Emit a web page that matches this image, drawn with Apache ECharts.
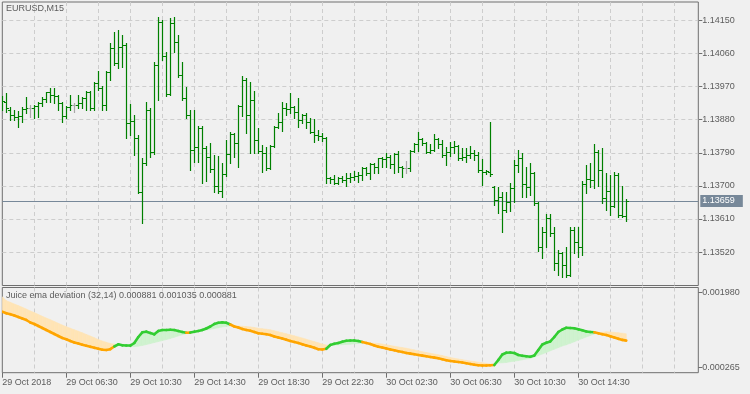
<!DOCTYPE html>
<html><head><meta charset="utf-8">
<script src="https://cdn.jsdelivr.net/npm/echarts@6/dist/echarts.min.js"></script>
<style>html,body{margin:0;padding:0;background:#F0F0F0}#chart{width:750px;height:394px}</style>
</head><body><div id="chart"></div>
<script>
const symbolTitle = 'EURUSD,M15';
const indicatorTitle = 'Juice ema deviation (32,14) 0.000881 0.001035 0.000881';
const timeLabels = ['29 Oct 2018','29 Oct 06:30','29 Oct 10:30','29 Oct 14:30','29 Oct 18:30','29 Oct 22:30','30 Oct 02:30','30 Oct 06:30','30 Oct 10:30','30 Oct 14:30'];
const priceTicks = [1.13520,1.13610,1.13700,1.13790,1.13880,1.13970,1.14060,1.14150];
const devTicks = [0.000265,0.001980];

const opens = [1.13926,1.13929,1.13907,1.13893,1.13888,1.13890,1.13910,1.13912,1.13912,1.13918,
1.13926,1.13937,1.13956,1.13948,1.13945,1.13926,1.13890,1.13915,1.13920,1.13920,
1.13926,1.13939,1.13956,1.13912,1.13980,1.13967,1.13920,1.14010,1.14075,1.14035,
1.14078,1.14084,1.13871,1.13877,1.13831,1.13684,1.13763,1.13907,1.13793,1.14029,
1.14146,1.14054,1.13950,1.14143,1.14092,1.14002,1.13939,1.13893,1.13798,1.13806,
1.13858,1.13803,1.13779,1.13746,1.13700,1.13686,1.13733,1.13787,1.13841,1.13817,
1.13918,1.13988,1.13893,1.13934,1.13825,1.13795,1.13790,1.13749,1.13809,1.13861,
1.13874,1.13912,1.13910,1.13915,1.13901,1.13880,1.13893,1.13874,1.13847,1.13839,
1.13836,1.13831,1.13722,1.13719,1.13708,1.13722,1.13716,1.13722,1.13725,1.13727,
1.13730,1.13749,1.13735,1.13760,1.13752,1.13776,1.13773,1.13779,1.13760,1.13787,
1.13752,1.13749,1.13749,1.13795,1.13814,1.13828,1.13817,1.13793,1.13798,1.13828,
1.13814,1.13784,1.13793,1.13806,1.13809,1.13776,1.13779,1.13784,1.13790,1.13784,
1.13744,1.13738,1.13738,1.13697,1.13662,1.13670,1.13635,1.13657,1.13695,1.13757,
1.13776,1.13705,1.13697,1.13735,1.13654,1.13534,1.13575,1.13613,1.13572,1.13491,
1.13518,1.13485,1.13458,1.13580,1.13548,1.13534,1.13705,1.13719,1.13716,1.13793,
1.13744,1.13667,1.13686,1.13646,1.13730,1.13621,1.13618];
const highs = [1.13945,1.13953,1.13915,1.13907,1.13904,1.13915,1.13942,1.13920,1.13920,1.13928,
1.13942,1.13956,1.13967,1.13967,1.13948,1.13928,1.13918,1.13948,1.13926,1.13948,
1.13942,1.13958,1.13958,1.13983,1.14013,1.13972,1.14013,1.14089,1.14119,1.14124,
1.14111,1.14089,1.13923,1.13893,1.13839,1.13776,1.13928,1.13912,1.14037,1.14160,
1.14151,1.14065,1.14157,1.14160,1.14111,1.14037,1.13969,1.13907,1.13907,1.13863,
1.13863,1.13809,1.13817,1.13784,1.13782,1.13763,1.13825,1.13847,1.13844,1.13920,
1.13999,1.13994,1.13983,1.13958,1.13858,1.13812,1.13806,1.13812,1.13863,1.13899,
1.13928,1.13926,1.13953,1.13918,1.13939,1.13896,1.13899,1.13885,1.13882,1.13852,
1.13844,1.13833,1.13725,1.13730,1.13725,1.13727,1.13735,1.13735,1.13741,1.13738,
1.13752,1.13752,1.13763,1.13763,1.13776,1.13779,1.13790,1.13784,1.13790,1.13795,
1.13754,1.13768,1.13798,1.13817,1.13847,1.13831,1.13820,1.13814,1.13841,1.13831,
1.13825,1.13806,1.13820,1.13822,1.13812,1.13803,1.13803,1.13809,1.13798,1.13793,
1.13773,1.13744,1.13874,1.13700,1.13697,1.13684,1.13684,1.13708,1.13771,1.13798,
1.13790,1.13752,1.13763,1.13738,1.13657,1.13588,1.13624,1.13624,1.13588,1.13526,
1.13521,1.13534,1.13588,1.13588,1.13588,1.13714,1.13757,1.13763,1.13814,1.13798,
1.13803,1.13735,1.13730,1.13738,1.13735,1.13700,1.13665];
const lows = [1.13907,1.13901,1.13880,1.13880,1.13861,1.13874,1.13899,1.13888,1.13885,1.13888,
1.13918,1.13928,1.13928,1.13926,1.13907,1.13874,1.13885,1.13907,1.13901,1.13912,
1.13912,1.13907,1.13907,1.13907,1.13961,1.13907,1.13907,1.13988,1.14029,1.14021,
1.14024,1.13831,1.13839,1.13784,1.13681,1.13599,1.13757,1.13779,1.13787,1.13934,
1.14043,1.13945,1.13948,1.14065,1.13996,1.13934,1.13885,1.13744,1.13765,1.13765,
1.13708,1.13714,1.13738,1.13684,1.13681,1.13670,1.13727,1.13763,1.13779,1.13752,
1.13890,1.13844,1.13790,1.13790,1.13790,1.13738,1.13744,1.13746,1.13806,1.13858,
1.13850,1.13893,1.13899,1.13885,1.13861,1.13871,1.13858,1.13844,1.13820,1.13825,
1.13822,1.13708,1.13708,1.13705,1.13705,1.13711,1.13700,1.13711,1.13716,1.13711,
1.13716,1.13730,1.13719,1.13735,1.13735,1.13752,1.13752,1.13749,1.13735,1.13738,
1.13725,1.13735,1.13741,1.13793,1.13795,1.13812,1.13790,1.13790,1.13795,1.13803,
1.13779,1.13757,1.13782,1.13790,1.13771,1.13771,1.13765,1.13776,1.13771,1.13738,
1.13703,1.13733,1.13727,1.13648,1.13627,1.13575,1.13629,1.13632,1.13657,1.13738,
1.13670,1.13670,1.13676,1.13648,1.13523,1.13504,1.13534,1.13564,1.13472,1.13458,
1.13452,1.13452,1.13455,1.13518,1.13507,1.13512,1.13681,1.13697,1.13695,1.13700,
1.13654,1.13635,1.13621,1.13643,1.13616,1.13616,1.13605];
const closes = [1.13931,1.13912,1.13893,1.13888,1.13890,1.13910,1.13912,1.13912,1.13918,1.13926,
1.13937,1.13956,1.13948,1.13945,1.13926,1.13890,1.13915,1.13920,1.13920,1.13926,
1.13939,1.13956,1.13912,1.13980,1.13967,1.13920,1.14010,1.14075,1.14035,1.14078,
1.14084,1.13871,1.13877,1.13831,1.13684,1.13763,1.13907,1.13793,1.14029,1.14146,
1.14054,1.13950,1.14143,1.14092,1.14002,1.13939,1.13893,1.13798,1.13806,1.13858,
1.13803,1.13779,1.13746,1.13700,1.13686,1.13733,1.13787,1.13841,1.13817,1.13918,
1.13988,1.13893,1.13934,1.13825,1.13795,1.13790,1.13749,1.13809,1.13861,1.13874,
1.13912,1.13910,1.13915,1.13901,1.13880,1.13893,1.13874,1.13847,1.13839,1.13836,
1.13831,1.13722,1.13719,1.13708,1.13722,1.13716,1.13722,1.13725,1.13727,1.13730,
1.13749,1.13735,1.13760,1.13752,1.13776,1.13773,1.13779,1.13760,1.13787,1.13752,
1.13749,1.13749,1.13795,1.13814,1.13828,1.13817,1.13793,1.13798,1.13828,1.13814,
1.13784,1.13793,1.13806,1.13809,1.13776,1.13779,1.13784,1.13790,1.13784,1.13744,
1.13738,1.13741,1.13733,1.13662,1.13670,1.13635,1.13657,1.13695,1.13757,1.13776,
1.13705,1.13697,1.13735,1.13654,1.13534,1.13575,1.13613,1.13572,1.13491,1.13518,
1.13485,1.13458,1.13580,1.13548,1.13534,1.13705,1.13719,1.13716,1.13793,1.13744,
1.13667,1.13686,1.13646,1.13730,1.13621,1.13618,1.13659];

const devMain = [0.001539,
0.001502,0.001482,0.001452,0.001418,0.001384,0.001350,0.001293,0.001259,0.001213,0.001168,
0.001122,0.001077,0.001031,0.000986,0.000940,0.000911,0.000872,0.000838,0.000815,0.000786,
0.000763,0.000740,0.000717,0.000695,0.000672,0.000667,0.000686,0.000747,0.000797,0.000774,
0.000770,0.000768,0.000827,0.000963,0.001070,0.001084,0.001054,0.001024,0.001100,0.001122,
0.001122,0.001127,0.001122,0.001100,0.001077,0.001061,0.001063,0.001084,0.001100,0.001122,
0.001156,0.001202,0.001259,0.001288,0.001295,0.001288,0.001247,0.001202,0.001179,0.001145,
0.001122,0.001104,0.001077,0.001047,0.001036,0.001027,0.001009,0.000974,0.000952,0.000929,
0.000902,0.000872,0.000849,0.000827,0.000797,0.000770,0.000747,0.000717,0.000686,0.000679,
0.000695,0.000781,0.000808,0.000827,0.000856,0.000877,0.000883,0.000885,0.000872,0.000849,
0.000827,0.000804,0.000770,0.000742,0.000724,0.000701,0.000679,0.000660,0.000640,0.000622,
0.000599,0.000585,0.000572,0.000554,0.000540,0.000524,0.000508,0.000494,0.000479,0.000458,
0.000435,0.000417,0.000406,0.000394,0.000383,0.000367,0.000349,0.000331,0.000319,0.000315,
0.000314,0.000319,0.000326,0.000440,0.000565,0.000606,0.000610,0.000599,0.000554,0.000535,
0.000524,0.000515,0.000542,0.000667,0.000792,0.000833,0.000861,0.000963,0.001077,0.001134,
0.001172,0.001168,0.001161,0.001138,0.001116,0.001088,0.001077,0.001070,0.001047,0.001027,
0.001009,0.000979,0.000952,0.000922,0.000897,0.000881];
const devSignal = [0.001880,
0.001789,0.001752,0.001714,0.001677,0.001639,0.001600,0.001555,0.001518,0.001475,0.001434,
0.001395,0.001357,0.001316,0.001275,0.001236,0.001197,0.001163,0.001127,0.001095,0.001059,
0.001022,0.000986,0.000947,0.000906,0.000872,0.000843,0.000815,0.000800,0.000790,0.000758,
0.000750,0.000745,0.000745,0.000755,0.000770,0.000790,0.000813,0.000836,0.000858,0.000881,
0.000904,0.000931,0.000959,0.000986,0.001013,0.001040,0.001068,0.001077,0.001088,0.001104,
0.001122,0.001138,0.001156,0.001172,0.001191,0.001207,0.001218,0.001218,0.001213,0.001207,
0.001200,0.001193,0.001179,0.001163,0.001150,0.001141,0.001127,0.001104,0.001081,0.001059,
0.001036,0.001015,0.000990,0.000965,0.000940,0.000913,0.000886,0.000858,0.000831,0.000804,
0.000781,0.000777,0.000779,0.000781,0.000788,0.000795,0.000799,0.000808,0.000815,0.000822,
0.000829,0.000827,0.000822,0.000815,0.000804,0.000786,0.000770,0.000754,0.000738,0.000722,
0.000708,0.000690,0.000670,0.000649,0.000629,0.000610,0.000595,0.000576,0.000558,0.000540,
0.000517,0.000497,0.000479,0.000463,0.000447,0.000431,0.000417,0.000403,0.000390,0.000376,
0.000365,0.000349,0.000335,0.000372,0.000376,0.000383,0.000399,0.000413,0.000426,0.000444,
0.000463,0.000476,0.000508,0.000542,0.000576,0.000610,0.000649,0.000686,0.000722,0.000758,
0.000786,0.000820,0.000854,0.000895,0.000929,0.000963,0.000997,0.001031,0.001054,0.001072,
0.001081,0.001077,0.001068,0.001059,0.001050,0.001035];

const FONT = "'Liberation Sans', Arial, sans-serif";
const TXT = '#5c5c5c', FRAME = '#6f6f6f', GRIDC = '#cdcdcd';
const BAR_C = '#008000', DOJI_C = '#a8a8a8';
const G_LINE = '#32CD32', O_LINE = '#FFA500', G_FILL = '#CFF2CF', O_FILL = '#FFE4B5';
const NCAT = 175, LABEL_STEP = 16, GRID_STEP = 8;
const cats = []; for (let k = 0; k < NCAT; k++) cats.push(String(k));
const lastClose = closes[closes.length - 1];

const ohlcData = opens.map((o, k) => [k, o, highs[k], lows[k], closes[k]]);
const devData = devMain.map((m, k) => [k, m, devSignal[k]]);

function ohlcItem(params, api) {
  const j = api.value(0), o = api.value(1), h = api.value(2), l = api.value(3), c = api.value(4);
  const pH = api.coord([j, h]), pL = api.coord([j, l]), pO = api.coord([j, o]), pC = api.coord([j, c]);
  const x = Math.round(pH[0]) + 0.5;
  const yO = Math.round(pO[1]) + 0.5, yC = Math.round(pC[1]) + 0.5;
  const col = o === c ? DOJI_C : BAR_C;
  return {type: 'group', children: [
    {type: 'line', shape: {x1: x, y1: Math.round(pH[1]), x2: x, y2: Math.round(pL[1]) + 1}, style: {stroke: col, lineWidth: 1.2}},
    {type: 'line', shape: {x1: x - 2.5, y1: yO, x2: x, y2: yO}, style: {stroke: col, lineWidth: 1}},
    {type: 'line', shape: {x1: x, y1: yC, x2: x + 2.5, y2: yC}, style: {stroke: col, lineWidth: 1}}
  ]};
}
function fillItem(params, api) {
  const j = params.dataIndex; if (j === 0) return null;
  const m0 = devMain[j-1], m1 = devMain[j], s0 = devSignal[j-1], s1 = devSignal[j];
  const A0 = api.coord([j-1, m0]), A1 = api.coord([j, m1]), B0 = api.coord([j-1, s0]), B1 = api.coord([j, s1]);
  const d0 = m0 - s0, d1 = m1 - s1;
  const col = d => d >= 0 ? G_FILL : O_FILL;
  let polys;
  if (d0 * d1 < 0) {
    const t = d0 / (d0 - d1);
    const P = [A0[0] + t * (A1[0] - A0[0]), A0[1] + t * (A1[1] - A0[1])];
    polys = [[[A0, P, B0], col(d0)], [[P, A1, B1], col(d1)]];
  } else {
    polys = [[[A0, A1, B1, B0], col(d1 !== 0 ? d1 : d0)]];
  }
  return {type: 'group', children: polys.map(p => ({type: 'polygon', shape: {points: p[0]}, style: {fill: p[1], stroke: p[1], lineWidth: 0.6}}))};
}
function lineItem(params, api) {
  const j = params.dataIndex; if (j === 0) return null;
  const A0 = api.coord([j-1, devMain[j-1]]), A1 = api.coord([j, devMain[j]]);
  const c = devMain[j] >= devSignal[j] ? G_LINE : O_LINE;
  return {type: 'line', shape: {x1: A0[0], y1: A0[1], x2: A1[0], y2: A1[1]}, style: {stroke: c, lineWidth: 2.6, lineCap: 'round'}};
}

const labelShown = idx => idx % LABEL_STEP === 0 && idx / LABEL_STEP < timeLabels.length;
const gridShown = idx => idx > 0 && idx % GRID_STEP === 0;

const chart = echarts.init(document.getElementById('chart'));
chart.setOption({
  animation: false,
  backgroundColor: '#F0F0F0',
  textStyle: {fontFamily: FONT},
  title: [
    {text: symbolTitle, left: 6, top: 4, padding: 0, textStyle: {fontSize: 9, fontWeight: 'normal', color: TXT, fontFamily: FONT}},
    {text: indicatorTitle, left: 6, top: 291, padding: 0, textStyle: {fontSize: 9, fontWeight: 'normal', color: TXT, fontFamily: FONT}}
  ],
  grid: [
    {left: 2.3, right: 51.7, top: 2, height: 283.5, show: true, borderColor: FRAME, borderWidth: 1, backgroundColor: 'transparent', outerBoundsMode: 'none'},
    {left: 2.3, right: 51.7, top: 287.5, height: 85.2, show: true, borderColor: FRAME, borderWidth: 1, backgroundColor: 'transparent', outerBoundsMode: 'none'}
  ],
  xAxis: [
    {gridIndex: 0, type: 'category', data: cats, boundaryGap: false,
     axisLine: {show: false}, axisTick: {show: false}, axisLabel: {show: false},
     splitLine: {show: true, interval: gridShown, lineStyle: {color: GRIDC, type: [4, 3], width: 1}}},
    {gridIndex: 1, type: 'category', data: cats, boundaryGap: false,
     axisLine: {show: false},
     axisTick: {show: true, interval: labelShown, length: 5, inside: false, lineStyle: {color: FRAME, width: 1}},
     axisLabel: {show: true, interval: labelShown, align: 'left', margin: 5, fontSize: 9, color: TXT, fontFamily: FONT,
                 formatter: (v) => timeLabels[Number(v) / LABEL_STEP] || ''},
     splitLine: {show: true, interval: gridShown, lineStyle: {color: GRIDC, type: [4, 3], width: 1}}}
  ],
  yAxis: [
    {gridIndex: 0, type: 'value', position: 'right', min: 1.13429, max: 1.14200,
     axisLine: {show: false}, splitLine: {show: false},
     axisTick: {show: true, customValues: priceTicks, length: 4, lineStyle: {color: FRAME}},
     axisLabel: {show: true, customValues: priceTicks, margin: 4, fontSize: 9, color: TXT, fontFamily: FONT, formatter: v => v.toFixed(5)}},
    {gridIndex: 1, type: 'value', position: 'right', min: 0.000151, max: 0.002089,
     axisLine: {show: false}, splitLine: {show: false},
     axisTick: {show: true, customValues: devTicks, length: 4, lineStyle: {color: FRAME}},
     axisLabel: {show: true, customValues: devTicks, margin: 4, fontSize: 9, color: TXT, fontFamily: FONT, formatter: v => v.toFixed(6)}}
  ],
  series: [
    {type: 'custom', name: 'EURUSD', xAxisIndex: 0, yAxisIndex: 0, data: ohlcData, renderItem: ohlcItem, z: 3, clip: true,
     encode: {x: 0, y: [1, 2, 3, 4]},
     markLine: {silent: true, z: 1, symbol: ['none', 'none'], animation: false, precision: 5, label: {show: false},
       lineStyle: {color: GRIDC, type: [4, 3], width: 1},
       data: priceTicks.map(v => ({yAxis: v})).concat([{yAxis: lastClose,
         lineStyle: {color: '#778899', type: 'solid', width: 1},
         label: {show: true, position: 'end', distance: 2, formatter: lastClose.toFixed(5), backgroundColor: '#778899',
                 color: '#ffffff', padding: [2, 8, 1, 2], fontSize: 9, fontFamily: FONT}}])}},
    {type: 'custom', name: 'fill', xAxisIndex: 1, yAxisIndex: 1, data: devData, renderItem: fillItem, z: 2, clip: true,
     encode: {x: 0, y: [1, 2]}},
    {type: 'custom', name: 'deviation', xAxisIndex: 1, yAxisIndex: 1, data: devData, renderItem: lineItem, z: 3, clip: true,
     encode: {x: 0, y: [1, 2]}}
  ]
});
</script>
</body></html>
